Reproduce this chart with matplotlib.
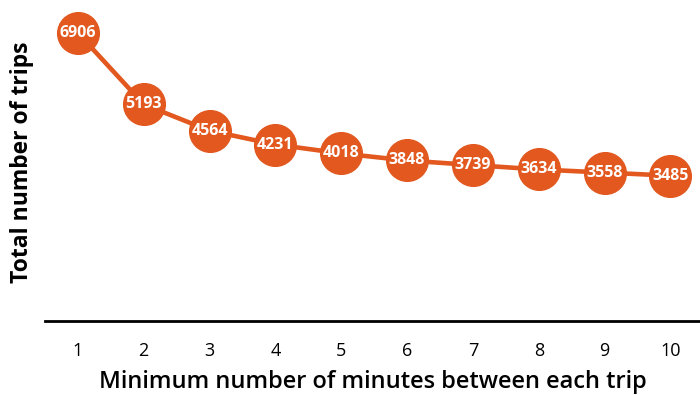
import matplotlib.pyplot as plt

minutes = [1, 2, 3, 4, 5, 6, 7, 8, 9, 10]
trips = [6906, 5193, 4564, 4231, 4018, 3848, 3739, 3634, 3558, 3485]

orange = "#E2581F"

plt.rcParams['font.family'] = ['Open Sans', 'DejaVu Sans']

fig = plt.figure(figsize=(7, 3.95), dpi=100)
ax = fig.add_axes([45 / 700, 1 - 321 / 395, 1 - 45 / 700, 317 / 395])

ax.plot(minutes, trips, color=orange, linewidth=3.3, marker='o',
        markersize=30, markerfacecolor=orange, markeredgecolor=orange,
        zorder=2)
for x, y in zip(minutes, trips):
    ax.text(x, y, str(y), color='white', fontsize=11.5, fontweight='bold',
            ha='center', va='center', zorder=3)

ax.set_xlim(0.5, 10.45)
ax.set_ylim(0, 7600)
ax.set_xticks(minutes)
ax.set_yticks([])
ax.tick_params(axis='x', length=0, pad=15, labelsize=13)
for s in ['top', 'right', 'left']:
    ax.spines[s].set_visible(False)
ax.spines['bottom'].set_linewidth(2)
ax.spines['bottom'].set_color('black')

ax.set_xlabel("Minimum number of minutes between each trip", fontsize=17,
              fontweight='semibold', labelpad=7)
ax.set_ylabel("Total number of trips", fontsize=16.5, fontweight='bold',
              labelpad=8)

fig.savefig("out.png", dpi=100)
